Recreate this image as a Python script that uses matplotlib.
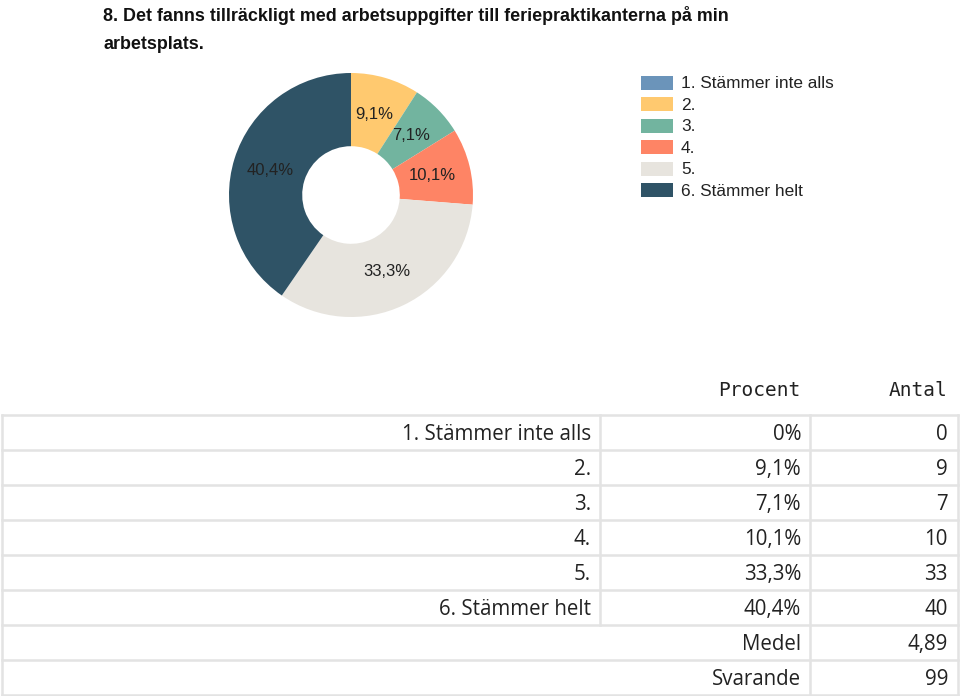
import matplotlib.pyplot as plt
from matplotlib.patches import Rectangle

# survey data
categories = ['1. Stämmer inte alls', '2.', '3.', '4.', '5.', '6. Stämmer helt']
counts = [0, 9, 7, 10, 33, 40]
percent_labels = ['0%', '9,1%', '7,1%', '10,1%', '33,3%', '40,4%']
colors = ['#6b94ba', '#ffc96f', '#72b49f', '#fe8465', '#e7e4de', '#2f5366']
mean_label = '4,89'
n_answers = 99
title = ('8. Det fanns tillräckligt med arbetsuppgifter till feriepraktikanterna på min\n'
         'arbetsplats.')

W, H = 960, 696
fig = plt.figure(figsize=(W / 100, H / 100), dpi=100)

# overlay axes in pixel coordinates for text, legend and table
ax = fig.add_axes([0, 0, 1, 1])
ax.set_xlim(0, W)
ax.set_ylim(H, 0)
ax.axis('off')

ax.text(103, 6, title, ha='left', va='top', fontsize=12.9, fontweight='bold',
        family='Liberation Sans', linespacing=1.85, color='#111111')

# donut
cx, cy, r = 351, 195, 122
pax = fig.add_axes([(cx - r) / W, (H - cy - r) / H, 2 * r / W, 2 * r / H])
labels_pie = [p if c > 0 else '' for p, c in zip(percent_labels, counts)]
wedges, texts = pax.pie(counts, colors=colors, startangle=90, counterclock=False,
                        radius=1, wedgeprops=dict(width=0.6, linewidth=0),
                        labels=labels_pie, labeldistance=0.69,
                        textprops=dict(fontsize=12, family='Liberation Sans',
                                       color='#222222'))
for t in texts:
    t.set_ha('center')
    t.set_va('center')
pax.set_xlim(-1, 1)
pax.set_ylim(-1, 1)
pax.set_aspect('equal')
pax.axis('off')

# legend
leg_x, leg_y0, leg_dy = 641, 83, 21.4
for i, (cat, col) in enumerate(zip(categories, colors)):
    y = leg_y0 + i * leg_dy
    ax.add_patch(Rectangle((leg_x, y - 7), 32, 14, facecolor=col, edgecolor='none'))
    ax.text(leg_x + 40, y + 1, cat, ha='left', va='center', fontsize=12.4,
            family='Liberation Sans', color='#222222')

# table
mono = 'DejaVu Sans Mono'
ax.text(800, 390, 'Procent', ha='right', va='center', fontsize=14, family=mono, color='#222222')
ax.text(947, 390, 'Antal', ha='right', va='center', fontsize=14, family=mono, color='#222222')

top, row_h = 415, 35
left, right, sep1, sep2 = 2, 958, 600, 810
n_rows = len(categories) + 2
line_kw = dict(color='#e3e3e3', linewidth=1.8)
for i in range(n_rows + 1):
    y = top + i * row_h
    ax.plot([left, right], [y, y], **line_kw)
ax.plot([left, left], [top, top + n_rows * row_h], **line_kw)
ax.plot([right, right], [top, top + n_rows * row_h], **line_kw)
ax.plot([sep2, sep2], [top, top + n_rows * row_h], **line_kw)
ax.plot([sep1, sep1], [top, top + len(categories) * row_h], **line_kw)

tfont = dict(fontsize=14.8, family='Open Sans', color='#222222', va='center', ha='right')
for i, (cat, p, c) in enumerate(zip(categories, percent_labels, counts)):
    y = top + (i + 0.57) * row_h
    ax.text(sep1 - 9, y, cat, **tfont)
    ax.text(sep2 - 9, y, p, **tfont)
    ax.text(right - 10, y, str(c), **tfont)
y = top + (len(categories) + 0.57) * row_h
ax.text(sep2 - 9, y, 'Medel', **tfont)
ax.text(right - 10, y, mean_label, **tfont)
y = top + (len(categories) + 1.57) * row_h
ax.text(sep2 - 9, y, 'Svarande', **tfont)
ax.text(right - 10, y, str(n_answers), **tfont)

fig.savefig('out.png', dpi=100)
